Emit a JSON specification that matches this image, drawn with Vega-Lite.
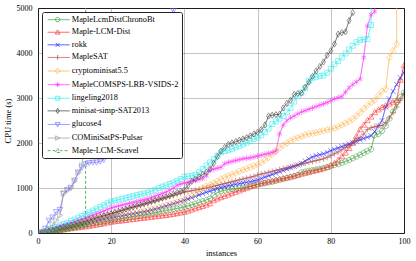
{
"$schema": "https://vega.github.io/schema/vega-lite/v6.json",
"width": 366, "height": 225,
"autosize": "none",
"padding": {"left": 38, "top": 8, "right": 12, "bottom": 28},
"background": "white",
"config": {
  "font": "Liberation Serif",
  "view": {"stroke": "black", "strokeWidth": 1},
  "axis": {"labelFont": "Liberation Serif", "labelFontSize": 8, "labelColor": "black", "titleFont": "Liberation Serif", "titleFontSize": 8.5, "titleFontWeight": "normal", "titleColor": "black", "domain": false, "ticks": false, "labelFlush": false, "grid": true, "gridColor": "#555", "gridDash": [1, 1], "gridWidth": 0.7},
  "legend": {"orient": "top-left", "offset": 4, "labelFont": "Liberation Serif", "labelFontSize": 8.3, "labelColor": "black", "labelOffset": 18, "labelLimit": 300, "symbolSize": 16, "symbolStrokeWidth": 0.8, "symbolOpacity": 1, "rowPadding": 3.6, "padding": 3.5, "fillColor": "white", "strokeColor": "#222", "cornerRadius": 2, "zindex": 1}
},
"datasets": {
  "names": [
    {"k": "a", "name": "MapleLcmDistChronoBt"},
    {"k": "b", "name": "Maple-LCM-Dist"},
    {"k": "c", "name": "rokk"},
    {"k": "d", "name": "MapleSAT"},
    {"k": "e", "name": "cryptominisat5.5"},
    {"k": "f", "name": "MapleCOMSPS-LRB-VSIDS-2"},
    {"k": "g", "name": "lingeling2018"},
    {"k": "h", "name": "minisat-simp-SAT2013"},
    {"k": "i", "name": "glucose4"},
    {"k": "j", "name": "COMiniSatPS-Pulsar"},
    {"k": "k", "name": "Maple-LCM-Scavel"}
  ],
  "runs": [
{"x":1,"a":2,"b":2,"c":3,"d":3,"e":3,"f":5,"g":5,"h":3,"i":20,"j":10,"k":5},
{"x":2,"a":15,"b":12,"c":15,"d":20,"e":15,"f":30,"g":40,"h":25,"i":100,"j":40,"k":15},
{"x":3,"a":30,"b":25,"c":30,"d":40,"e":30,"f":60,"g":80,"h":45,"i":280,"j":100,"k":30},
{"x":4,"a":45,"b":35,"c":45,"d":60,"e":45,"f":90,"g":110,"h":65,"i":350,"j":200,"k":45},
{"x":5,"a":60,"b":48,"c":60,"d":80,"e":60,"f":120,"g":140,"h":85,"i":470,"j":280,"k":60},
{"x":6,"a":80,"b":60,"c":75,"d":100,"e":75,"f":145,"g":170,"h":110,"i":520,"j":390,"k":75},
{"x":7,"a":95,"b":72,"c":90,"d":120,"e":90,"f":170,"g":200,"h":130,"i":880,"j":880,"k":90},
{"x":8,"a":110,"b":85,"c":105,"d":140,"e":105,"f":195,"g":230,"h":150,"i":960,"j":950,"k":105},
{"x":9,"a":125,"b":98,"c":120,"d":160,"e":125,"f":220,"g":265,"h":175,"i":1010,"j":1000,"k":120},
{"x":10,"a":140,"b":110,"c":140,"d":180,"e":145,"f":250,"g":300,"h":200,"i":1170,"j":1150,"k":140},
{"x":11,"a":155,"b":120,"c":160,"d":205,"e":165,"f":280,"g":340,"h":225,"i":1350,"j":1340,"k":160},
{"x":12,"a":165,"b":130,"c":180,"d":230,"e":185,"f":310,"g":380,"h":250,"i":1460,"j":1500,"k":180},
{"x":13,"a":180,"b":142,"c":200,"d":255,"e":205,"f":340,"g":420,"h":270,"i":1530,"j":2600,"k":200},
{"x":14,"a":195,"b":155,"c":220,"d":280,"e":225,"f":370,"g":460,"h":295,"i":1560,"j":100000,"k":100000},
{"x":15,"a":210,"b":168,"c":240,"d":305,"e":245,"f":400,"g":500,"h":320,"i":1570},
{"x":16,"a":225,"b":180,"c":260,"d":330,"e":265,"f":430,"g":540,"h":340,"i":1570},
{"x":17,"a":240,"b":195,"c":280,"d":355,"e":285,"f":460,"g":580,"h":360,"i":1590},
{"x":18,"a":250,"b":210,"c":300,"d":380,"e":305,"f":490,"g":620,"h":385,"i":1630},
{"x":19,"a":265,"b":228,"c":320,"d":405,"e":330,"f":525,"g":660,"h":405,"i":1770},
{"x":20,"a":280,"b":245,"c":340,"d":430,"e":355,"f":560,"g":700,"h":430,"i":2000},
{"x":21,"a":295,"b":255,"c":355,"d":455,"e":370,"f":580,"g":720,"h":455,"i":2150},
{"x":22,"a":305,"b":265,"c":370,"d":480,"e":385,"f":600,"g":740,"h":480,"i":2300},
{"x":23,"a":320,"b":275,"c":385,"d":505,"e":400,"f":620,"g":760,"h":505,"i":2450},
{"x":24,"a":335,"b":285,"c":400,"d":530,"e":415,"f":640,"g":780,"h":530,"i":2600},
{"x":25,"a":350,"b":295,"c":415,"d":555,"e":430,"f":660,"g":800,"h":555,"i":2750},
{"x":26,"a":365,"b":305,"c":430,"d":575,"e":445,"f":680,"g":820,"h":580,"i":2900},
{"x":27,"a":380,"b":315,"c":445,"d":595,"e":460,"f":700,"g":840,"h":605,"i":3050},
{"x":28,"a":390,"b":325,"c":460,"d":615,"e":475,"f":720,"g":860,"h":630,"i":3200},
{"x":29,"a":405,"b":335,"c":475,"d":640,"e":490,"f":740,"g":880,"h":655,"i":3350},
{"x":30,"a":420,"b":345,"c":490,"d":660,"e":505,"f":760,"g":900,"h":680,"i":3500},
{"x":31,"a":435,"b":355,"c":510,"d":685,"e":525,"f":790,"g":930,"h":705,"i":3700},
{"x":32,"a":450,"b":365,"c":530,"d":710,"e":545,"f":820,"g":960,"h":730,"i":3900},
{"x":33,"a":465,"b":375,"c":550,"d":735,"e":565,"f":850,"g":1000,"h":755,"i":4100},
{"x":34,"a":480,"b":385,"c":575,"d":760,"e":590,"f":880,"g":1030,"h":780,"i":4300},
{"x":35,"a":500,"b":395,"c":600,"d":785,"e":615,"f":910,"g":1060,"h":805,"i":4500},
{"x":36,"a":515,"b":408,"c":625,"d":810,"e":640,"f":950,"g":1090,"h":830,"i":4700},
{"x":37,"a":530,"b":420,"c":650,"d":835,"e":665,"f":1000,"g":1120,"h":865,"i":4950},
{"x":38,"a":545,"b":435,"c":675,"d":860,"e":690,"f":1060,"g":1160,"h":900,"i":100000},
{"x":39,"a":560,"b":450,"c":700,"d":885,"e":710,"f":1090,"g":1200,"h":930},
{"x":40,"a":580,"b":467,"c":725,"d":910,"e":730,"f":1110,"g":1250,"h":960},
{"x":41,"a":600,"b":490,"c":755,"d":925,"e":780,"f":1130,"g":1260,"h":1060},
{"x":42,"a":625,"b":515,"c":785,"d":940,"e":830,"f":1150,"g":1270,"h":1150},
{"x":43,"a":650,"b":545,"c":815,"d":955,"e":880,"f":1170,"g":1290,"h":1200},
{"x":44,"a":680,"b":570,"c":845,"d":970,"e":940,"f":1190,"g":1350,"h":1250},
{"x":45,"a":705,"b":595,"c":875,"d":985,"e":1000,"f":1210,"g":1420,"h":1300},
{"x":46,"a":735,"b":625,"c":905,"d":1000,"e":1040,"f":1270,"g":1500,"h":1350},
{"x":47,"a":765,"b":655,"c":930,"d":1020,"e":1070,"f":1390,"g":1570,"h":1420},
{"x":48,"a":840,"b":720,"c":960,"d":1040,"e":1110,"f":1420,"g":1640,"h":1550},
{"x":49,"a":900,"b":760,"c":990,"d":1060,"e":1150,"f":1440,"g":1720,"h":1700},
{"x":50,"a":930,"b":790,"c":1010,"d":1080,"e":1200,"f":1460,"g":1790,"h":1820},
{"x":51,"a":950,"b":820,"c":1030,"d":1100,"e":1240,"f":1540,"g":1820,"h":1900},
{"x":52,"a":965,"b":850,"c":1050,"d":1120,"e":1270,"f":1570,"g":1840,"h":1970},
{"x":53,"a":975,"b":880,"c":1065,"d":1140,"e":1300,"f":1590,"g":1870,"h":2000},
{"x":54,"a":985,"b":910,"c":1080,"d":1160,"e":1330,"f":1610,"g":1900,"h":2030},
{"x":55,"a":995,"b":940,"c":1095,"d":1180,"e":1370,"f":1630,"g":1930,"h":2060},
{"x":56,"a":1005,"b":970,"c":1110,"d":1200,"e":1400,"f":1650,"g":1970,"h":2090},
{"x":57,"a":1020,"b":1000,"c":1125,"d":1220,"e":1430,"f":1660,"g":2010,"h":2120},
{"x":58,"a":1040,"b":1030,"c":1140,"d":1240,"e":1460,"f":1670,"g":2050,"h":2160},
{"x":59,"a":1060,"b":1055,"c":1160,"d":1260,"e":1490,"f":1690,"g":2090,"h":2200},
{"x":60,"a":1080,"b":1080,"c":1180,"d":1290,"e":1520,"f":1710,"g":2120,"h":2240},
{"x":61,"a":1095,"b":1100,"c":1210,"d":1310,"e":1560,"f":1730,"g":2170,"h":2300},
{"x":62,"a":1110,"b":1120,"c":1240,"d":1330,"e":1620,"f":1750,"g":2240,"h":2400},
{"x":63,"a":1125,"b":1140,"c":1270,"d":1350,"e":1680,"f":1770,"g":2320,"h":2600},
{"x":64,"a":1140,"b":1160,"c":1300,"d":1370,"e":1750,"f":1790,"g":2420,"h":2620},
{"x":65,"a":1160,"b":1180,"c":1330,"d":1390,"e":1820,"f":1820,"g":2480,"h":2630},
{"x":66,"a":1180,"b":1200,"c":1360,"d":1410,"e":1890,"f":2200,"g":2540,"h":2640},
{"x":67,"a":1200,"b":1215,"c":1390,"d":1430,"e":1950,"f":2400,"g":2600,"h":2780},
{"x":68,"a":1220,"b":1230,"c":1420,"d":1450,"e":2000,"f":2500,"g":2680,"h":2880},
{"x":69,"a":1240,"b":1250,"c":1450,"d":1470,"e":2050,"f":2560,"g":2780,"h":2950},
{"x":70,"a":1260,"b":1270,"c":1480,"d":1490,"e":2090,"f":2600,"g":2920,"h":3080},
{"x":71,"a":1290,"b":1290,"c":1510,"d":1510,"e":2120,"f":2650,"g":3050,"h":3100},
{"x":72,"a":1350,"b":1310,"c":1550,"d":1530,"e":2150,"f":2690,"g":3120,"h":3110},
{"x":73,"a":1365,"b":1330,"c":1600,"d":1550,"e":2180,"f":2720,"g":3220,"h":3240},
{"x":74,"a":1380,"b":1350,"c":1650,"d":1570,"e":2200,"f":2750,"g":3380,"h":3350},
{"x":75,"a":1395,"b":1370,"c":1690,"d":1590,"e":2215,"f":2780,"g":3440,"h":3480},
{"x":76,"a":1410,"b":1390,"c":1720,"d":1610,"e":2230,"f":2810,"g":3470,"h":3600},
{"x":77,"a":1425,"b":1410,"c":1740,"d":1630,"e":2250,"f":2840,"g":3490,"h":3700},
{"x":78,"a":1445,"b":1430,"c":1760,"d":1650,"e":2270,"f":2870,"g":3500,"h":3800},
{"x":79,"a":1465,"b":1460,"c":1790,"d":1680,"e":2290,"f":2900,"g":3560,"h":3950},
{"x":80,"a":1490,"b":1500,"c":1830,"d":1720,"e":2310,"f":2940,"g":3650,"h":4050},
{"x":81,"a":1510,"b":1550,"c":1860,"d":1760,"e":2330,"f":2980,"g":3750,"h":4200},
{"x":82,"a":1530,"b":1620,"c":1890,"d":1800,"e":2360,"f":3010,"g":3820,"h":4420},
{"x":83,"a":1560,"b":1700,"c":1920,"d":1850,"e":2400,"f":3030,"g":3900,"h":4450},
{"x":84,"a":1590,"b":1780,"c":1950,"d":1900,"e":2440,"f":3130,"g":3990,"h":4470},
{"x":85,"a":1620,"b":1880,"c":1980,"d":1950,"e":2480,"f":3230,"g":4080,"h":4720},
{"x":86,"a":1660,"b":2000,"c":2010,"d":2000,"e":2530,"f":3300,"g":4160,"h":4900},
{"x":87,"a":1700,"b":2150,"c":2040,"d":2060,"e":2600,"f":3360,"g":4240},
{"x":88,"a":1740,"b":2300,"c":2070,"d":2120,"e":2680,"f":3420,"g":4290},
{"x":89,"a":1780,"b":2400,"c":2100,"d":2200,"e":2760,"f":3900,"g":4300},
{"x":90,"a":1820,"b":2500,"c":2130,"d":2300,"e":2840,"f":4600,"g":4310},
{"x":91,"a":1860,"b":2580,"c":2160,"d":2340,"e":2900,"f":4850,"g":4620},
{"x":92,"a":2180,"b":2680,"c":2250,"d":2360,"e":2950,"f":4920,"g":100000},
{"x":93,"a":2200,"b":2740,"c":2380,"d":2380,"e":3050,"f":100000},
{"x":94,"a":2270,"b":2790,"c":2500,"d":2390,"e":3150},
{"x":95,"a":2380,"b":2830,"c":2800,"d":2450,"e":3200},
{"x":96,"a":2540,"b":2870,"c":2980,"d":2560,"e":3900},
{"x":97,"a":2700,"b":2910,"c":3150,"d":2680,"e":4050},
{"x":98,"a":2900,"b":2950,"c":3300,"d":2800,"e":4200},
{"x":99,"a":3020,"b":3400,"c":3450,"d":2950,"e":100000},
{"x":100,"a":3120,"b":3720,"c":3570,"d":3100},
{"x":101,"a":3250,"b":4100,"c":3700,"d":3300}
  ]
},
"data": {"name": "runs"},
"transform": [
  {"fold": ["a","b","c","d","e","f","g","h","i","j","k"], "as": ["key","t"]},
  {"filter": "isValid(datum.t)"},
  {"lookup": "key", "from": {"data": {"name": "names"}, "key": "k", "fields": ["name"]}}
],
"encoding": {
  "x": {"field": "x", "type": "quantitative", "scale": {"domain": [0, 100], "nice": false}, "axis": {"title": "instances", "values": [0, 20, 40, 60, 80, 100], "labelPadding": 4, "titlePadding": 3}},
  "y": {"field": "t", "type": "quantitative", "scale": {"domain": [0, 5000], "nice": false}, "axis": {"title": "CPU time (s)", "values": [0, 1000, 2000, 3000, 4000, 5000], "format": "d", "labelPadding": 6, "titlePadding": 4}},
  "color": {"field": "name", "type": "nominal", "legend": null,
    "scale": {"domain": ["MapleLcmDistChronoBt","Maple-LCM-Dist","rokk","MapleSAT","cryptominisat5.5","MapleCOMSPS-LRB-VSIDS-2","lingeling2018","minisat-simp-SAT2013","glucose4","COMiniSatPS-Pulsar","Maple-LCM-Scavel"],
              "range": ["#3ca03c","#ff3030","#2020ff","#b04a4a","#ffb347","#ff30ff","#30ecf0","#404040","#7070ff","#a0a0a0","#2ca02c"]}}
},
"layer": [
  {"mark": {"type": "point", "clip": true, "filled": false, "opacity": 0, "size": 16},
   "encoding": {
     "color": {"field": "name", "type": "nominal", "legend": {"title": null},
       "scale": {"domain": ["MapleLcmDistChronoBt","Maple-LCM-Dist","rokk","MapleSAT","cryptominisat5.5","MapleCOMSPS-LRB-VSIDS-2","lingeling2018","minisat-simp-SAT2013","glucose4","COMiniSatPS-Pulsar","Maple-LCM-Scavel"],
                 "range": ["#3ca03c","#ff3030","#2020ff","#b04a4a","#ffb347","#ff30ff","#30ecf0","#404040","#7070ff","#a0a0a0","#2ca02c"]}},
     "shape": {"field": "name", "type": "nominal", "legend": {"title": null},
       "scale": {"domain": ["MapleLcmDistChronoBt","Maple-LCM-Dist","rokk","MapleSAT","cryptominisat5.5","MapleCOMSPS-LRB-VSIDS-2","lingeling2018","minisat-simp-SAT2013","glucose4","COMiniSatPS-Pulsar","Maple-LCM-Scavel"],
                 "range": [
                   "M-1,0H10M5.1,0A1.1,1.1 0 1,1 2.9,0A1.1,1.1 0 1,1 5.1,0Z",
                   "M-1,0H10M4,-1.2L5.2,0.9L2.8,0.9Z",
                   "M-1,0H10M3,-1L5,1M3,1L5,-1",
                   "M-1,0H10M4,-1.2V1.2",
                   "M-1,0H10M4,-1.4L5.2,0L4,1.4L2.8,0Z",
                   "M-1,0H10M4,-1.2V1.2M3,-0.6L5,0.6M3,0.6L5,-0.6",
                   "M-1,0H10M3,-1H5V1H3Z",
                   "M-1,0H10M4,-1.3L4.8,0L4,1.3L3.2,0Z",
                   "M-1,0H10M4,1.2L5.2,-0.9L2.8,-0.9Z",
                   "M-1,0H10M5.2,0L3,-1.1L3,1.1Z",
                   "M-1,0H0.5M1.5,0H2.7M5.3,0H6.5M7.5,0H9M4,-1.2L5.2,0.9L2.8,0.9Z"
                 ]}}
   }},
  {"mark": {"type": "line", "clip": true, "strokeWidth": 0.8},
   "encoding": {
     "order": {"field": "x", "type": "quantitative"},
     "strokeDash": {"field": "name", "type": "nominal", "legend": null,
       "scale": {"domain": ["MapleLcmDistChronoBt","Maple-LCM-Dist","rokk","MapleSAT","cryptominisat5.5","MapleCOMSPS-LRB-VSIDS-2","lingeling2018","minisat-simp-SAT2013","glucose4","COMiniSatPS-Pulsar","Maple-LCM-Scavel"],
                 "range": [[1,0],[1,0],[1,0],[1,0],[1,0],[1,0],[1,0],[1,0],[1,0],[1,0],[3,2]]}}}},
  {"transform": [{"filter": {"field": "name", "equal": "MapleLcmDistChronoBt"}}], "mark": {"type": "point", "clip": true, "filled": false, "size": 20, "strokeWidth": 0.8, "shape": "M1.2,0A1.2,1.2 0 1,1 -1.2,0A1.2,1.2 0 1,1 1.2,0Z"}},
  {"transform": [{"filter": {"field": "name", "equal": "Maple-LCM-Dist"}}], "mark": {"type": "point", "clip": true, "filled": false, "size": 20, "strokeWidth": 0.8, "shape": "M0,-1.3L1.3,1L-1.3,1Z"}},
  {"transform": [{"filter": {"field": "name", "equal": "rokk"}}], "mark": {"type": "point", "clip": true, "filled": false, "size": 20, "strokeWidth": 0.8, "shape": "M-1.1,-1.1L1.1,1.1M-1.1,1.1L1.1,-1.1"}},
  {"transform": [{"filter": {"field": "name", "equal": "MapleSAT"}}], "mark": {"type": "point", "clip": true, "filled": false, "size": 20, "strokeWidth": 0.8, "shape": "M0,-1.3V1.3M-1.3,0H1.3"}},
  {"transform": [{"filter": {"field": "name", "equal": "cryptominisat5.5"}}], "mark": {"type": "point", "clip": true, "filled": false, "size": 20, "strokeWidth": 0.8, "shape": "M0,-1.5L1.3,0L0,1.5L-1.3,0Z"}},
  {"transform": [{"filter": {"field": "name", "equal": "MapleCOMSPS-LRB-VSIDS-2"}}], "mark": {"type": "point", "clip": true, "filled": false, "size": 20, "strokeWidth": 0.8, "shape": "M0,-1.3V1.3M-1.1,-0.65L1.1,0.65M-1.1,0.65L1.1,-0.65"}},
  {"transform": [{"filter": {"field": "name", "equal": "lingeling2018"}}], "mark": {"type": "point", "clip": true, "filled": false, "size": 20, "strokeWidth": 0.8, "shape": "M-1.1,-1.1H1.1V1.1H-1.1Z"}},
  {"transform": [{"filter": {"field": "name", "equal": "minisat-simp-SAT2013"}}], "mark": {"type": "point", "clip": true, "filled": false, "size": 20, "strokeWidth": 0.8, "shape": "M0,-1.4L0.9,0L0,1.4L-0.9,0Z"}},
  {"transform": [{"filter": {"field": "name", "equal": "glucose4"}}], "mark": {"type": "point", "clip": true, "filled": false, "size": 20, "strokeWidth": 0.8, "shape": "M0,1.3L1.3,-1L-1.3,-1Z"}},
  {"transform": [{"filter": {"field": "name", "equal": "COMiniSatPS-Pulsar"}}], "mark": {"type": "point", "clip": true, "filled": false, "size": 20, "strokeWidth": 0.8, "shape": "M1.3,0L-1.1,-1.2L-1.1,1.2Z"}},
  {"transform": [{"filter": {"field": "name", "equal": "Maple-LCM-Scavel"}}], "mark": {"type": "point", "clip": true, "filled": false, "size": 20, "strokeWidth": 0.8, "shape": "M0,-1.3L1.3,1L-1.3,1Z"}}
]
}
